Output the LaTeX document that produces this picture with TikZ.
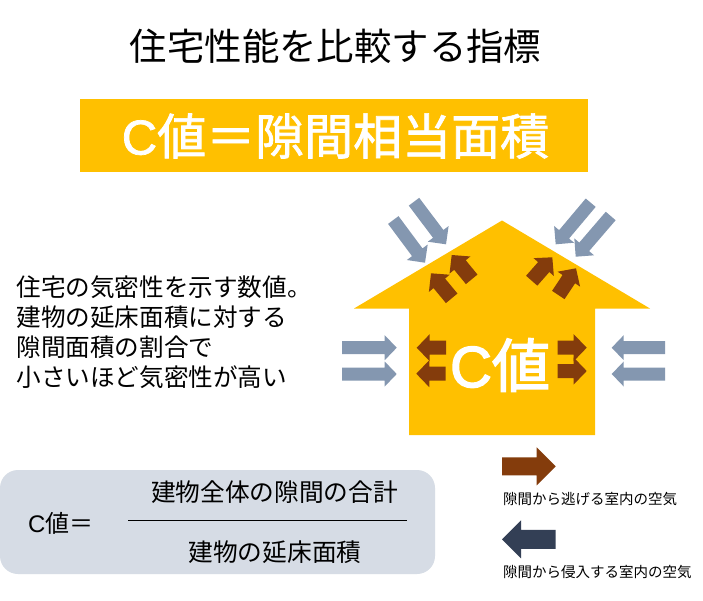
\documentclass[tikz,border=0pt]{standalone}
\usepackage{fontspec}
\usetikzlibrary{calc}
\setmainfont{Noto Sans CJK JP}
\newfontfamily\latinfont{Liberation Sans}
\newfontfamily\semibold[FakeBold=2.5]{Noto Sans CJK JP}
\newfontfamily\semilatin[FakeBold=2.5]{Liberation Sans}
\newfontfamily\lightbold[FakeBold=1.5]{Noto Sans CJK JP}
\newfontfamily\lightlatin[FakeBold=1.5]{Liberation Sans}
\definecolor{gold}{HTML}{FFC000}
\definecolor{brownar}{HTML}{843C0C}
\definecolor{bluear}{HTML}{8497B0}
\definecolor{darkar}{HTML}{333F55}
\definecolor{boxbg}{HTML}{D6DCE5}
\newcommand{\px}[1]{\fontsize{\fpeval{#1*0.75}}{\fpeval{#1*0.9}}\selectfont}
% tail, tip, shaft half-width, head half-width, head length, colour
\newcommand{\barrow}[6]{%
  \path (#1) coordinate (bt) (#2) coordinate (bh);
  \path ($(bh)!{#5*0.75pt}!(bt)$) coordinate (bn);
  \fill[#6] ($(bt)!{#3*0.75pt}!90:(bh)$) -- ($(bn)!{#3*0.75pt}!90:(bh)$) --
    ($(bn)!{#4*0.75pt}!90:(bh)$) -- (bh) -- ($(bn)!{#4*0.75pt}!-90:(bh)$) --
    ($(bn)!{#3*0.75pt}!-90:(bh)$) -- ($(bt)!{#3*0.75pt}!-90:(bh)$) -- cycle;
}
\tikzset{
  label/.style={inner sep=0pt, outer sep=0pt, text=black},
  leftline/.style={label, anchor=west, font=\px{24.6}},
  legendtext/.style={label, anchor=west, font=\px{14.5}},
  fraction/.style={label, font=\px{24.7}},
}
\begin{document}
\begin{tikzpicture}[x=0.75pt,y=-0.75pt]
\useasboundingbox (0,0) rectangle (703,600);
\fill[white] (0,0) rectangle (703,600);

\node[label, font=\px{37.4}] (title) at (335.5,46) {住宅性能を比較する指標};

\node[fill=gold, minimum width=381pt, minimum height=54.75pt, inner sep=0pt, anchor=center] (banner) at (334,135.5) {};
\node[label, text=white, font=\px{49}\lightbold] (bannertext) at (335.5,136) {{\lightlatin C}値＝隙間相当面積};

\node[leftline] (l1) at (16.5,287) {住宅の気密性を示す数値。};
\node[leftline] (l2) at (16.5,317) {建物の延床面積に対する};
\node[leftline] (l3) at (16.5,347) {隙間面積の割合で};
\node[leftline] (l4) at (16.5,377) {小さいほど気密性が高い};

% house
\fill[gold] (502,220.5) -- (650,308.5) -- (595,308.5) -- (595,435) -- (409,435) -- (409,308.5) -- (354,308.5) -- cycle;
\node[label, text=white, font=\px{58}\semibold] (cvalue) at (500,365) {{\semilatin C}値};

% incoming air
\barrow{414,201.7}{446,244.3}{6.5}{13}{13}{bluear}
\barrow{393.3,220}{425,262.7}{6.5}{13}{13}{bluear}
\barrow{590.7,202.7}{555.7,244.3}{6.5}{13}{13}{bluear}
\barrow{610.7,216}{575.7,256.7}{6.5}{13}{13}{bluear}
\barrow{342,347.7}{396.7,347.7}{6.5}{12.5}{12}{bluear}
\barrow{342,374}{396.7,374}{6.5}{12.5}{12}{bluear}
\barrow{665,347.7}{611.7,347.7}{6.5}{12.5}{12}{bluear}
\barrow{665,374}{611.7,374}{6.5}{12.5}{12}{bluear}

% escaping air
\barrow{451.7,298.3}{431,273.3}{7.5}{13.5}{13}{brownar}
\barrow{471.7,279.3}{451.7,255}{7.5}{13.5}{13}{brownar}
\barrow{531.7,280.7}{552.3,257.3}{7.5}{13.5}{13}{brownar}
\barrow{558.3,295}{576,268.3}{7.5}{13.5}{13}{brownar}
\barrow{446,347.7}{416.7,347.7}{7}{13.5}{13}{brownar}
\barrow{445.5,373.7}{416.3,373.7}{7}{13.5}{13}{brownar}
\barrow{557.7,347.7}{586.7,347.7}{7}{13.5}{13}{brownar}
\barrow{557.7,371}{586.7,371}{7}{13.5}{13}{brownar}

% legend
\barrow{502,466.3}{555.7,466.3}{9}{19}{19}{brownar}
\barrow{555.7,539.3}{502,539.3}{9.5}{19}{19}{darkar}
\node[legendtext] (leg1) at (503,499.5) {隙間から逃げる室内の空気};
\node[legendtext] (leg2) at (503,572.5) {隙間から侵入する室内の空気};

% formula
\fill[boxbg, rounded corners=13.5pt] (0,470) rectangle (435,574);
\node[label, anchor=west, font=\px{24}] (lhs) at (28,523) {{\latinfont C}値＝};
\node[fraction] (num) at (274.5,492) {建物全体の隙間の合計};
\node[fraction] (den) at (275,552) {建物の延床面積};
\coordinate (barL) at (128,520.5);
\coordinate (barR) at (407,520.5);
\draw[line width=0.75pt, black] (barL) -- (barR);
\end{tikzpicture}
\end{document}
